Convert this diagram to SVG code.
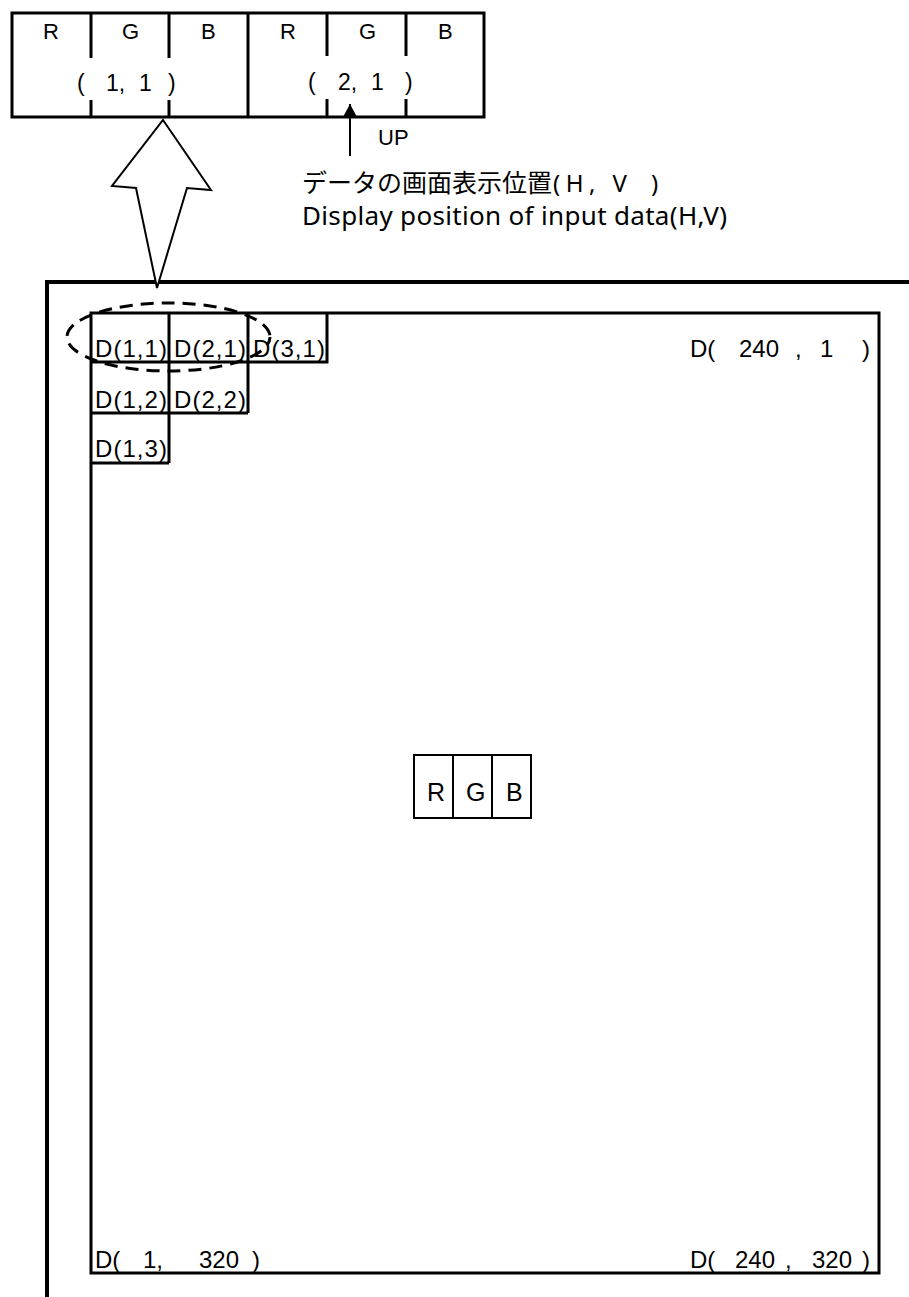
<svg xmlns="http://www.w3.org/2000/svg" width="909" height="1297" viewBox="0 0 909 1297">
<style>
.ln{stroke:#000;fill:none}
.t{font-family:"Liberation Sans",Arial,sans-serif;fill:#000}
.jp{font-family:"Noto Sans CJK JP","Noto Sans",sans-serif;fill:#000}
.en{font-family:"Noto Sans","Open Sans",sans-serif;fill:#000}
</style>
<defs>
<marker id="ah" viewBox="0 0 13 14" markerWidth="13" markerHeight="14" refX="13" refY="7" orient="auto" markerUnits="userSpaceOnUse">
<path d="M0,0 L13,7 L0,14 Z" fill="#000"/>
</marker>
</defs>
<rect width="909" height="1297" fill="#fff"/>

<g id="pixel-box">
<rect x="12" y="13" width="472" height="104" class="ln" stroke-width="3"/>
<line x1="248" y1="13" x2="248" y2="117" class="ln" stroke-width="3"/>
<path d="M91,13 V58 M91,100 V117 M169,13 V58 M169,100 V117 M327,13 V56 M327,99 V117 M406,13 V56 M406,99 V117" class="ln" stroke-width="3"/>
<g class="t" font-size="22">
<text x="43" y="39">R</text>
<text x="122" y="39">G</text>
<text x="201" y="39">B</text>
<text x="280" y="39">R</text>
<text x="359" y="39">G</text>
<text x="438" y="39">B</text>
</g>
<g class="t" font-size="23">
<text y="91"><tspan x="77">(</tspan><tspan x="106">1,</tspan><tspan x="139">1</tspan><tspan x="168">)</tspan></text>
<text y="90"><tspan x="308">(</tspan><tspan x="338">2,</tspan><tspan x="371">1</tspan><tspan x="405">)</tspan></text>
</g>
</g>

<g id="up-label">
<text class="t" x="378" y="145" font-size="22">UP</text>
<text class="jp" y="192" font-size="25"><tspan x="302">データの画面表示位置</tspan><tspan x="553" class="en" font-size="24" textLength="74" lengthAdjust="spacing">(H, V</tspan><tspan x="651" class="en" font-size="24">)</tspan></text>
<text class="en" x="302" y="225" font-size="26" textLength="425" lengthAdjust="spacing">Display position of input data(H,V)</text>
</g>

<g id="screen">
<path d="M47,1297 V282 H909" class="ln" stroke-width="4"/>
<rect x="91" y="313" width="788" height="960" class="ln" stroke-width="3"/>
</g>

<g id="cells">
<path d="M91,362 H327 V313 M169,313 V463 M248,313 V413 M91,413 H248 M91,463 H169" class="ln" stroke-width="3"/>
<g class="t" font-size="24">
<text x="95" y="357" textLength="72" lengthAdjust="spacing">D(1,1)</text>
<text x="174" y="357" textLength="72" lengthAdjust="spacing">D(2,1)</text>
<text x="253" y="357" textLength="72" lengthAdjust="spacing">D(3,1)</text>
<text x="95" y="408" textLength="72" lengthAdjust="spacing">D(1,2)</text>
<text x="174" y="408" textLength="72" lengthAdjust="spacing">D(2,2)</text>
<text x="95" y="457" textLength="72" lengthAdjust="spacing">D(1,3)</text>
</g>
</g>

<g id="corner-labels" class="t" font-size="24">
<text y="357"><tspan x="690">D(</tspan><tspan x="739">240</tspan><tspan x="795">,</tspan><tspan x="820">1</tspan><tspan x="862">)</tspan></text>
<text y="1268"><tspan x="95">D(</tspan><tspan x="143">1,</tspan><tspan x="199">320</tspan><tspan x="252">)</tspan></text>
<text y="1268"><tspan x="690">D(</tspan><tspan x="735">240</tspan><tspan x="785">,</tspan><tspan x="812">320</tspan><tspan x="862">)</tspan></text>
</g>

<g id="rgb-center">
<rect x="414" y="755" width="117" height="63" class="ln" stroke-width="2"/>
<path d="M453,755 V818 M492,755 V818" class="ln" stroke-width="2"/>
<g class="t" font-size="25">
<text x="427" y="801">R</text>
<text x="466" y="801">G</text>
<text x="506" y="801">B</text>
</g>
</g>

<g id="highlight">
<ellipse cx="168.5" cy="337" rx="101.5" ry="34" class="ln" stroke-width="3" stroke-dasharray="13 8" stroke-dashoffset="4"/>
</g>

<g id="connectors">
<polygon points="163,120 211,190 187,188 157,288 136,188 112,186" fill="#fff" stroke="#000" stroke-width="2" stroke-linejoin="miter"/>
<line x1="350" y1="156" x2="350" y2="104" stroke="#000" stroke-width="2" marker-end="url(#ah)"/>
</g>
</svg>
